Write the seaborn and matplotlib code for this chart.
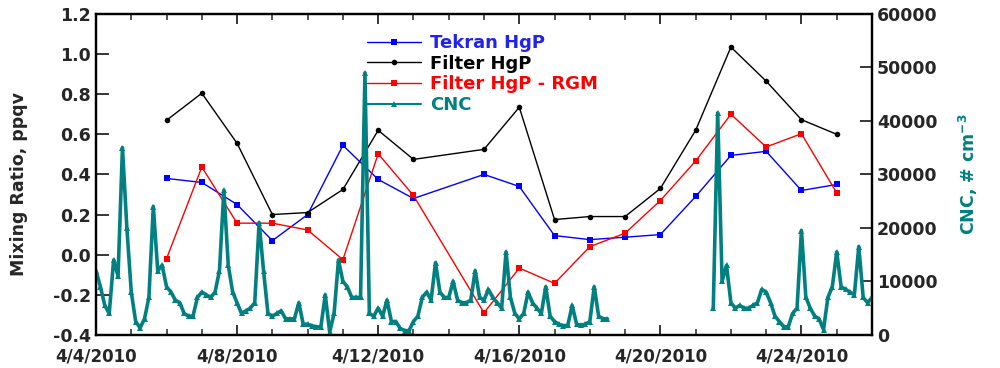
import numpy as np
import pandas as pd
import matplotlib
matplotlib.use("Agg")
import matplotlib.pyplot as plt
import matplotlib.dates as mdates
from matplotlib.ticker import FuncFormatter, MultipleLocator
import seaborn as sns

# Données
dates_hgp = pd.to_datetime([
    "2010-04-06", "2010-04-07", "2010-04-08", "2010-04-09", "2010-04-10",
    "2010-04-11", "2010-04-12", "2010-04-13", "2010-04-15", "2010-04-16",
    "2010-04-17", "2010-04-18", "2010-04-19", "2010-04-20", "2010-04-21",
    "2010-04-22", "2010-04-23", "2010-04-24", "2010-04-25",
])
tekran_hgp = [0.38, 0.36, 0.25, 0.07, 0.20, 0.545, 0.375, 0.28, 0.40, 0.34,
              0.095, 0.075, 0.087, 0.10, 0.29, 0.495, 0.515, 0.32, 0.35]
filter_hgp = [0.67, 0.805, 0.555, 0.20, 0.21, 0.325, 0.62, 0.475, 0.525, 0.735,
              0.175, 0.19, 0.19, 0.33, 0.62, 1.035, 0.865, 0.673, 0.60]
filter_rgm = [-0.02, 0.437, 0.157, 0.157, 0.123, -0.025, 0.503, 0.295, -0.29, -0.067,
              -0.143, 0.04, 0.107, 0.27, 0.467, 0.70, 0.537, 0.603, 0.308]

# CNC (milliers de #/cm3), pas de 3 h
cnc_debut_1 = "2010-04-04 00:00"
cnc_seg1 = [
    12, 9, 5.5, 4, 14, 11, 35, 20,          # 4/4
    8, 2.5, 1.3, 3, 7, 24, 12, 13,          # 4/5
    9, 8, 6.5, 6, 4, 3.5, 3.5, 7,           # 4/6
    8, 7.5, 7, 8, 12, 27, 13, 8,            # 4/7
    6, 4, 4.5, 5, 6, 21, 12, 4,             # 4/8
    3.5, 4, 4.5, 3, 3, 3, 6, 2,             # 4/9
    2, 1.7, 1.5, 1.5, 7.5, 0.5, 4, 14,      # 4/10
    10, 9, 7, 7, 7, 49, 4, 3.5,             # 4/11
    5, 3.5, 6.5, 2.5, 2.5, 1.2, 0.8, 0.8,   # 4/12
    2.5, 3.5, 7, 8, 6.5, 13.5, 8, 7,        # 4/13
    7, 10, 6.5, 6, 6, 6.5, 12, 7,           # 4/14
    6.5, 8.5, 7, 6, 5, 15.5, 7, 4,          # 4/15
    3, 4, 8, 6, 5, 4, 9, 3.5,               # 4/16
    2.5, 2, 1.7, 1.8, 5.5, 2, 1.8, 2,       # 4/17
    2.5, 9, 3.5, 3, 3,                      # 4/18
]
cnc_debut_2 = "2010-04-21 12:00"
cnc_seg2 = [
    5, 41.5, 10, 13,                        # 4/21
    6, 5, 5.5, 5, 5, 5.5, 6, 8.5,           # 4/22
    8, 6, 3.5, 2.5, 1.5, 1.5, 4, 5,         # 4/23
    19.5, 7, 5, 3.5, 3, 1, 7, 9,            # 4/24
    15.5, 9, 8.5, 8, 7.5, 16.5, 7, 6,       # 4/25
    7,                                      # 4/26
]

df_hgp = pd.DataFrame({"date": dates_hgp, "tekran": tekran_hgp,
                       "filtre": filter_hgp, "rgm": filter_rgm})
df_c1 = pd.DataFrame({"date": pd.date_range(cnc_debut_1, periods=len(cnc_seg1), freq="3h"),
                      "cnc": np.array(cnc_seg1) * 1000})
df_c2 = pd.DataFrame({"date": pd.date_range(cnc_debut_2, periods=len(cnc_seg2), freq="3h"),
                      "cnc": np.array(cnc_seg2) * 1000})

# Style
sns.set_style("ticks")
plt.rcParams["font.family"] = ["DejaVu Sans"]
plt.rcParams["font.weight"] = "bold"
plt.rcParams["axes.unicode_minus"] = False
plt.rcParams["mathtext.fontset"] = "dejavusans"
plt.rcParams["mathtext.default"] = "bf"

teal = "#008080"
fig, ax = plt.subplots(figsize=(10, 3.68), dpi=100)
fig.subplots_adjust(left=0.096, right=0.872, top=0.962, bottom=0.09)
ax2 = ax.twinx()

sns.lineplot(data=df_hgp, x="date", y="tekran", ax=ax, color="#0000ff", marker="s",
             markersize=4, markeredgewidth=0, linewidth=1, legend=False)
sns.lineplot(data=df_hgp, x="date", y="filtre", ax=ax, color="black", marker="o",
             markersize=4, markeredgewidth=0, linewidth=1, legend=False)
sns.lineplot(data=df_hgp, x="date", y="rgm", ax=ax, color="#ff0000", marker="s",
             markersize=4, markeredgewidth=0, linewidth=1, legend=False)
for d in (df_c1, df_c2):
    sns.lineplot(data=d, x="date", y="cnc", ax=ax2, color=teal, marker="^",
                 markersize=4, markeredgewidth=0, linewidth=2.6, legend=False)

# Axes
ax.set_xlim(pd.Timestamp("2010-04-04"), pd.Timestamp("2010-04-26"))
ax.set_ylim(-0.4, 1.2)
ax.yaxis.set_major_locator(MultipleLocator(0.2))
ax.yaxis.set_major_formatter(FuncFormatter(lambda v, p: f"{v:.1f}"))
ax.set_xticks(pd.date_range("2010-04-04", "2010-04-24", freq="4D"))
ax.set_xticks(pd.date_range("2010-04-04", "2010-04-26", freq="D"), minor=True)

def fmt_date(v, p):
    d = mdates.num2date(v)
    return f"{d.month}/{d.day}/{d.year}"

ax.xaxis.set_major_formatter(FuncFormatter(fmt_date))
ax.set_xlabel("")
ax.set_ylabel("Mixing Ratio, ppqv", fontsize=12.5, fontweight="bold")
ax.yaxis.set_label_coords(-0.088, 0.47)

ax2.set_ylim(0, 60000)
ax2.yaxis.set_major_locator(MultipleLocator(10000))
ax2.set_ylabel(r"CNC, # cm$^{-3}$", fontsize=12.5, fontweight="bold", color=teal)
ax2.yaxis.set_label_coords(1.11, 0.5)

ax.tick_params(axis="x", which="major", direction="in", top=True, length=7, width=1.3,
               labelsize=12, pad=9)
ax.tick_params(axis="x", which="minor", direction="in", top=True, length=4, width=1.1)
ax.tick_params(axis="y", direction="in", length=9, width=1.3, labelsize=12.5)
ax2.tick_params(axis="y", direction="in", length=9, width=1.3, labelsize=12.5)
for a in (ax, ax2):
    for s in a.spines.values():
        s.set_linewidth(1.6)
        s.set_color("black")

# Légende
handles = [ax.lines[0], ax.lines[1], ax.lines[2], ax2.lines[0]]
labels = ["Tekran HgP", "Filter HgP", "Filter HgP - RGM", "CNC"]
leg = ax2.legend(handles, labels, loc="upper left", bbox_to_anchor=(0.34, 0.96),
                 frameon=False, fontsize=13, handlelength=3.0, handletextpad=0.5,
                 labelspacing=0.15, borderaxespad=0)
for txt, c in zip(leg.get_texts(), ["#2222ee", "black", "#ff0000", teal]):
    txt.set_color(c)
    txt.set_fontweight("bold")
leg.legend_handles[3].set_linewidth(1.5)

plt.savefig("out.png", dpi=100)
